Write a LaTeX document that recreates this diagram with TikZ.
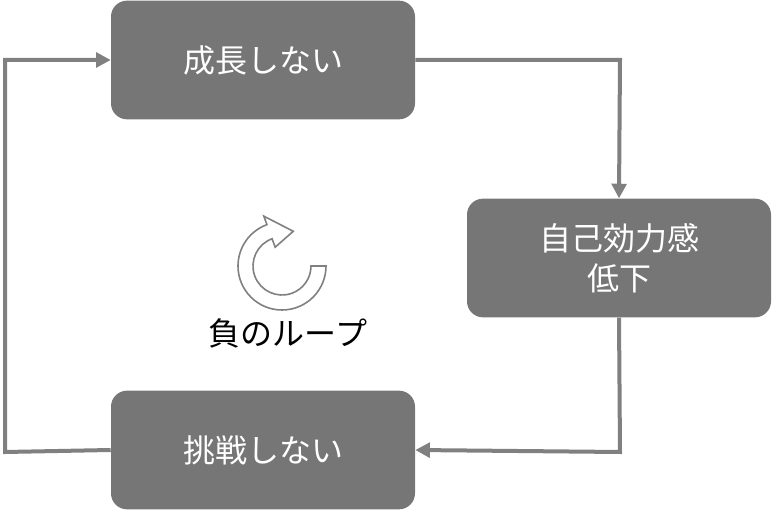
\documentclass[tikz,border=0pt]{standalone}
\usepackage{fontspec}
\setmainfont{Noto Sans CJK JP}
\usetikzlibrary{arrows.meta}
\definecolor{boxg}{HTML}{767676}
\definecolor{lineg}{HTML}{808080}
\begin{document}
\begin{tikzpicture}[x=0.75pt,y=0.75pt,
  box/.style={draw=none,fill=boxg,rounded corners=12pt,minimum width=228pt,minimum height=89pt,text=white,font=\fontsize{24}{30}\selectfont,align=center,inner sep=0pt},
  conn/.style={draw=lineg,line width=3pt,-{Triangle[length=11pt,width=11pt]}}]
\useasboundingbox (0,0) rectangle (772,511);
\node[box] (top) at (263,451) {成長しない};
\node[box] (right) at (619,253) {自己効力感\\低下};
\node[box] (bot) at (263,61) {挑戦しない};
\coordinate (c1) at (620,451);
\coordinate (c2) at (620,59);
\coordinate (c3) at (5,59);
\coordinate (c4) at (5,451);
\draw[conn] (top.east) -- (c1) -- (right.north);
\draw[conn] (right.south) -- (c2) -- (bot.east);
\draw[conn] (bot.west) -- (c3) -- (c4) -- (top.west);
\begin{scope}[shift={(282,245)}]
\draw[lineg,line width=1.2pt,line join=miter] (0:44) arc[start angle=0,end angle=-250,radius=44] -- (110:53) -- (72:36.5) -- (110:20) -- (110:29) arc[start angle=-250,end angle=0,radius=29] -- cycle;
\end{scope}
\node[font=\fontsize{24}{30}\selectfont] (lbl) at (288,178) {負のループ};
\end{tikzpicture}
\end{document}
